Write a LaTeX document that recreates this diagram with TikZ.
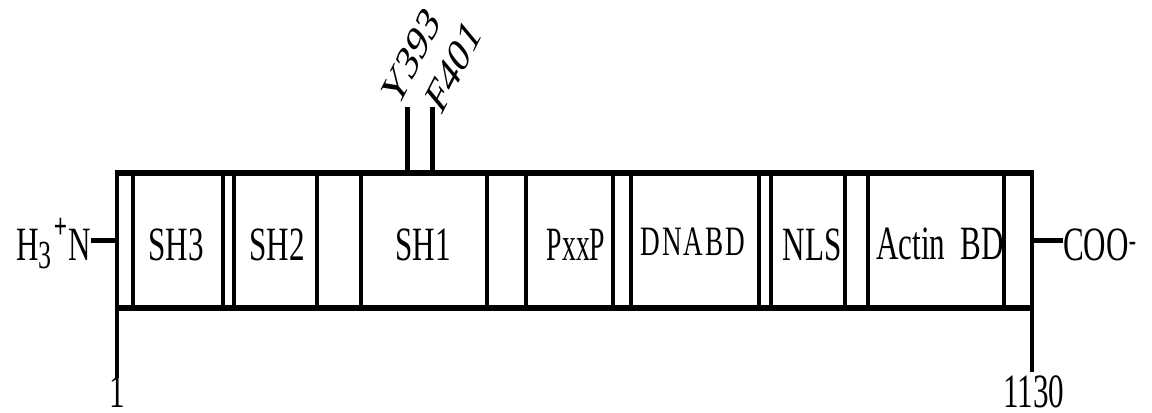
\documentclass[tikz,border=0pt]{standalone}
\usepackage{fontspec}
\setmainfont{Liberation Serif}
\usepackage{graphicx}
\newcommand{\sqz}[1]{\scalebox{0.65}[1]{#1}}
\tikzset{
  lbl/.style={inner sep=0pt, font=\fontsize{48}{56}\selectfont},
  sitelbl/.style={inner sep=0pt, anchor=base west, xscale=0.65, rotate=52, font=\fontsize{50}{56}\selectfont},
  divline/.style={line width=4.5bp},
  edgeline/.style={line width=6.5bp},
  stub/.style={line width=5bp}
}
\begin{document}
\begin{tikzpicture}[x=1bp,y=-1bp]
\useasboundingbox (0,0) rectangle (1152,412);
% box outline
\draw[edgeline] (115,173) -- (1034,173);
\draw[edgeline] (115,308) -- (1034,308);
\coordinate (L) at (117,240);
\coordinate (R) at (1032,240);
\draw[divline] (117,170) -- (117,378);
\draw[divline] (1032,170) -- (1032,372);
\foreach \x in {133,223,234,317,361,487,526,613,631,759,771,845,868,1004}
  \draw[divline] (\x,173) -- (\x,308);
% domain labels
\node[lbl, anchor=base] (sh3) at (176,260) {\sqz{SH3}};
\node[lbl, anchor=base] (sh2) at (277,260) {\sqz{SH2}};
\node[lbl, anchor=base] (sh1) at (423,260) {\sqz{SH1}};
\node[lbl, anchor=base] (pxxp) at (576,260) {\scalebox{0.58}[1]{PxxP}};
\node[lbl, anchor=base, font=\fontsize{42}{50}\selectfont] (dnabd) at (693,255) {\sqz{D\kern3bp N\kern3bp A\kern3bp B\kern3bp D}};
\node[lbl, anchor=base] (nls) at (812,260) {\sqz{NLS}};
\node[lbl, anchor=base] (abd) at (940,259) {\sqz{Actin\ \ BD}};
% termini
\node[lbl, anchor=base east] (nt) at (91,260) {\sqz{H\raisebox{-8bp}{\fontsize{40}{44}\selectfont 3}\kern3bp\raisebox{22bp}{\fontsize{36}{40}\selectfont\bfseries +}\kern2bp N}};
\node[lbl, anchor=base west] (ct) at (1063,260) {\sqz{COO\textsuperscript{-}}};
\draw[stub] (nt.east |- L) -- (L);
\draw[stub] (R) -- (ct.west |- R);
% residue numbers
\node[lbl, anchor=north] (n1) at (117,376) {\sqz{1}};
\node[lbl, anchor=north] (n1130) at (1034,375) {\sqz{1130}};
% phosphosites
\coordinate (ys) at (407,173);
\coordinate (fs) at (432,173);
\coordinate (yt) at (407,107);
\coordinate (ft) at (432,107);
\draw[stub] (ys) -- (yt);
\draw[stub] (fs) -- (ft);
\begin{scope}[shift={(397,111)}]
  \node[sitelbl] (y393) at (0,0) {Y393};
\end{scope}
\begin{scope}[shift={(441,117)}]
  \node[sitelbl] (f401) at (0,0) {F401};
\end{scope}
\end{tikzpicture}
\end{document}
